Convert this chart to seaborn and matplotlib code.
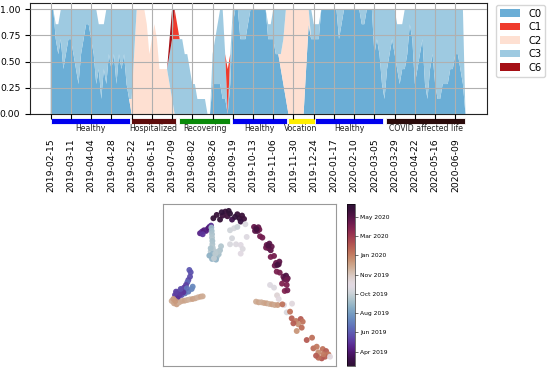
import matplotlib
matplotlib.use("Agg")
import matplotlib.pyplot as plt
from matplotlib.patches import Rectangle, Patch
from matplotlib import transforms
import numpy as np
import pandas as pd
import seaborn as sns

plt.rcParams['font.family'] = ['DejaVu Sans']

# ---------------- data (top panel) ----------------
# day index from 2019-02-15, sampled every 3 days; values are counts out of 7
days = list(range(0, 493, 3))

c0_sevenths = ([7, 7, 5, 4, 5, 3, 4, 5, 5, 4, 3, 2, 4, 5, 6, 6, 5, 4, 2, 3, 1, 3, 2, 4, 3, 4, 2, 4, 3, 4, 2, 1]
               + [0] * 32
               + [2, 2, 2, 2, 1, 1, 0, 2, 6, 7]
               + [7, 5, 5, 5, 6, 7, 7, 7, 7, 7, 7, 7]
               + [5, 5, 5, 4, 4, 3, 2, 1]
               + [0] * 7
               + [3, 6, 5, 5, 5, 5, 7, 7, 7, 7, 7, 7, 7]
               + [5, 6, 7, 7, 7, 7, 7, 7, 7, 6, 6, 7, 7, 7]
               + [4, 5, 4, 2, 1, 3, 4, 5, 4, 3, 2, 3, 3, 4, 6, 5, 2, 3, 4, 5, 2, 1, 3, 4, 2, 1, 1, 2, 2, 2,
                  3, 3, 4, 4, 3, 2, 0])
c2_sevenths = ([0] * 32
               + [1, 4, 7, 7, 7, 7, 6, 4, 5, 6, 5, 3, 3, 3, 3]
               + [2, 1]
               + [0] * 42
               + [1, 3, 6]
               + [7] * 7
               + [4, 1]
               + [0] * 62)
c3_sevenths = ([0, 0, 1, 2, 2, 4, 3, 2, 2, 3, 4, 5, 3, 2, 1, 1, 2, 3, 5, 3, 5, 3, 5, 3, 4, 3, 5, 3, 4, 3, 5, 6]
               + [6, 3] + [0] * 13
               + [2, 4, 5, 5, 5, 5, 4, 4, 3, 2, 2, 1, 1, 1, 1, 0, 0]
               + [2, 3, 4, 5, 6, 3, 0, 2, 1, 0]
               + [0, 2, 2, 2, 1, 0, 0, 0, 0, 0, 0, 0]
               + [1, 1, 2, 3, 3, 3, 2, 0]
               + [0] * 7
               + [0, 0, 2, 1, 1, 1, 0, 0, 0, 0, 0, 0, 0]
               + [2, 1, 0, 0, 0, 0, 0, 0, 0, 1, 1, 0, 0, 0]
               + [3, 2, 3, 5, 6, 4, 3, 2, 3, 3, 4, 3, 4, 3, 1, 2, 5, 4, 3, 2, 5, 6, 4, 3, 5, 6, 6, 5, 5, 5,
                  4, 4, 3, 3, 4, 5, 0])
c1_nonzero = {147: 2, 150: 1, 210: 3}
c6_nonzero = {141: 1, 144: 2}

tick_days = list(range(0, 481, 24))
tick_labels = ["2019-02-15", "2019-03-11", "2019-04-04", "2019-04-28", "2019-05-22", "2019-06-15",
               "2019-07-09", "2019-08-02", "2019-08-26", "2019-09-19", "2019-10-13", "2019-11-06",
               "2019-11-30", "2019-12-24", "2020-01-17", "2020-02-10", "2020-03-05", "2020-03-29",
               "2020-04-22", "2020-05-16", "2020-06-09"]

period_labels = ["Healthy", "Hospitalized", "Recovering", "Healthy", "Vocation", "Healthy",
                 "COVID affected life"]
period_start = [0, 95.5, 152, 215, 281, 314, 398]
period_end = [94, 148.5, 213, 280, 313, 394, 492]
period_colors = ["#0000ee", "#5e0c0c", "#0a8a0a", "#0000ee", "#ffee00", "#0000ee", "#2b0b0b"]

series_names = ["C0", "C1", "C2", "C3", "C6"]
series_colors = {"C0": "#6baed6", "C1": "#ef3b2c", "C2": "#fee0d2", "C3": "#9ecae1", "C6": "#a50f15"}

# ---------------- data (bottom panel: embedding) ----------------
pts = [
    # top arc
    (190, 70, 485), (200, 60, 480), (210, 74, 488), (218, 62, 475), (226, 50, 478), (236, 48, 490),
    (232, 64, 470), (246, 74, 20), (262, 58, 482), (268, 70, 486), (276, 62, 476), (282, 72, 472),
    (272, 80, 10), (255, 66, 5), (240, 56, 0), (215, 52, 3),
    # blue-purple streak
    (150, 115, 55), (156, 110, 60), (162, 106, 48), (168, 108, 52), (173, 102, 58), (178, 96, 62),
    (183, 92, 66), (176, 100, 45), (158, 118, 70),
    # light blue neck and blob
    (184, 98, 190), (185, 108, 195), (186, 118, 200), (186, 128, 205), (187, 138, 198), (187, 148, 202),
    (188, 158, 208), (190, 166, 210), (182, 170, 212), (188, 176, 185), (194, 182, 188), (200, 186, 192),
    (206, 178, 196), (210, 166, 200), (213, 154, 204), (204, 170, 207), (198, 194, 183), (186, 192, 186),
    (178, 182, 180), (192, 190, 214), (196, 176, 211), (182, 160, 199),
    # scattered light points
    (240, 106, 225), (252, 100, 230), (262, 96, 220), (286, 88, 235), (246, 130, 228), (240, 148, 232),
    (258, 148, 238), (272, 150, 242), (278, 162, 236), (272, 176, 244), (290, 126, 240),
    # right arc
    (312, 96, 440), (318, 100, 455), (325, 97, 445), (322, 108, 460), (315, 108, 450), (328, 104, 435),
    (320, 103, 465), (330, 124, 430), (337, 128, 432),
    (350, 150, 438), (358, 146, 450), (365, 155, 442), (356, 160, 462), (362, 166, 445), (348, 158, 436),
    (355, 152, 458), (362, 186, 428), (372, 183, 430),
    (378, 204, 440), (386, 208, 455), (374, 212, 437), (388, 200, 447), (382, 210, 465),
    (380, 230, 425), (389, 233, 427),
    (400, 245, 440), (408, 242, 460), (413, 250, 445), (403, 252, 450), (410, 255, 435),
    (396, 266, 420), (410, 270, 424), (404, 288, 418), (412, 286, 430),
    # light points
    (360, 270, 240), (372, 278, 238), (381, 301, 262), (386, 312, 250), (402, 330, 247), (410, 352, 232),
    (426, 326, 252),
    # middle tan line
    (318, 320, 300), (326, 322, 305), (334, 322, 298), (342, 324, 303), (350, 325, 308), (358, 327, 296),
    (366, 328, 310), (374, 330, 302), (383, 330, 312), (397, 328, 345),
    # left V
    (118, 225, 100), (122, 232, 95), (120, 245, 90), (115, 255, 88), (112, 262, 110), (108, 270, 80),
    (102, 278, 75), (95, 285, 70), (88, 290, 85), (80, 295, 72), (75, 300, 78), (85, 305, 82),
    (95, 300, 92), (105, 295, 125), (115, 290, 130), (125, 282, 135), (128, 275, 140), (110, 280, 120),
    (100, 292, 68), (90, 298, 74), (82, 310, 66), (78, 290, 80), (92, 282, 90),
    # left tan line
    (65, 318, 300), (72, 325, 305), (80, 328, 310), (88, 322, 298), (96, 318, 302), (104, 317, 306),
    (112, 315, 300), (120, 313, 295), (128, 312, 308), (136, 310, 303), (144, 307, 297), (152, 305, 305),
    (158, 304, 300), (70, 312, 312), (76, 318, 315),
    # lower right chain
    (420, 350, 345), (425, 370, 360), (438, 378, 340), (452, 372, 365), (458, 380, 345), (445, 388, 320),
    (430, 385, 362), (440, 408, 318), (455, 398, 350), (470, 435, 365), (486, 428, 348), (490, 460, 350),
    (500, 455, 340), (505, 472, 325), (518, 462, 345), (528, 468, 362), (535, 478, 342), (525, 485, 360),
    (515, 490, 368), (505, 488, 348), (498, 482, 362), (520, 478, 340), (540, 485, 250),
]
cb_tick_days = [43, 102, 160, 218, 277, 336, 395, 453]
cb_tick_labels = ["Apr 2019", "Jun 2019", "Aug 2019", "Oct 2019", "Nov 2019", "Jan 2020",
                  "Mar 2020", "May 2020"]

# ---------------- build ----------------
c1_sevenths = [c1_nonzero.get(d, 0) for d in days]
c6_sevenths = [c6_nonzero.get(d, 0) for d in days]
frac = {
    "C0": np.array(c0_sevenths) / 7.0,
    "C1": np.array(c1_sevenths) / 7.0,
    "C2": np.array(c2_sevenths) / 7.0,
    "C3": np.array(c3_sevenths) / 7.0,
    "C6": np.array(c6_sevenths) / 7.0,
}
stack_order = ["C0", "C2", "C3", "C1", "C6"]

fig = plt.figure(figsize=(5.5, 3.7), dpi=100)
ax = fig.add_axes([0.0545, 0.692, 0.831, 0.300])

ax.stackplot(days, *[frac[k] for k in stack_order], colors=[series_colors[k] for k in stack_order],
             linewidth=0)
ax.set_xlim(-24.6, 517.6)
ax.set_ylim(0, 1.06)
ax.set_yticks([0, 0.25, 0.5, 0.75, 1.0])
ax.set_yticklabels(["0.00", "0.25", "0.50", "0.75", "1.00"])
ax.set_xticks(tick_days)
ax.set_xticklabels(tick_labels, rotation=90)
ax.tick_params(axis='x', labelsize=6.7, pad=13.8, length=3.5, width=0.8)
ax.tick_params(axis='y', labelsize=6.7, length=3.5, width=0.8)
ax.grid(True, color='#b0b0b0', linewidth=0.8)
ax.set_axisbelow(False)
for sp in ax.spines.values():
    sp.set_linewidth(0.8)
    sp.set_color('#222222')

trans = transforms.blended_transform_factory(ax.transData, ax.transAxes)
for lab, s, e, col in zip(period_labels, period_start, period_end, period_colors):
    ax.add_patch(Rectangle((s, -0.092), e - s, 0.053, transform=trans, facecolor=col,
                           edgecolor='white', linewidth=0.6, clip_on=False, zorder=1))
    ax.text((s + e) / 2, -0.135, lab, transform=trans, ha='center', va='center',
            fontsize=5.6, color='#222222')

handles = [Patch(facecolor=series_colors[k], edgecolor='none', label=k) for k in series_names]
ax.legend(handles=handles, loc='upper left', bbox_to_anchor=(1.02, 0.985), borderaxespad=0,
          fontsize=7.2, labelspacing=0.35, handlelength=2.0, handleheight=0.75)

# bottom panel
ax2 = fig.add_axes([0.297, 0.0116, 0.3134, 0.4364])
df = pd.DataFrame(pts, columns=["ex", "ey_px", "day"])
df["ey"] = 512 - df["ey_px"]
sns.scatterplot(data=df, x="ex", y="ey", hue="day", palette="twilight_shifted", hue_norm=(0, 492),
                s=18, linewidth=0, alpha=0.95, legend=False, ax=ax2)
ax2.set_xlim(40, 557)
ax2.set_ylim(0, 484)
ax2.set_xticks([])
ax2.set_yticks([])
ax2.set_xlabel("")
ax2.set_ylabel("")
for sp in ax2.spines.values():
    sp.set_color('#999999')
    sp.set_linewidth(0.8)

cax = fig.add_axes([0.6304, 0.0116, 0.0151, 0.4364])
sm = plt.cm.ScalarMappable(cmap="twilight_shifted", norm=plt.Normalize(0, 492))
cb = fig.colorbar(sm, cax=cax)
cb.set_ticks(cb_tick_days)
cb.set_ticklabels(cb_tick_labels)
cax.tick_params(labelsize=4.3, length=2, width=0.4, pad=1.5)
cb.outline.set_linewidth(0.4)

fig.savefig("out.png", dpi=100)
